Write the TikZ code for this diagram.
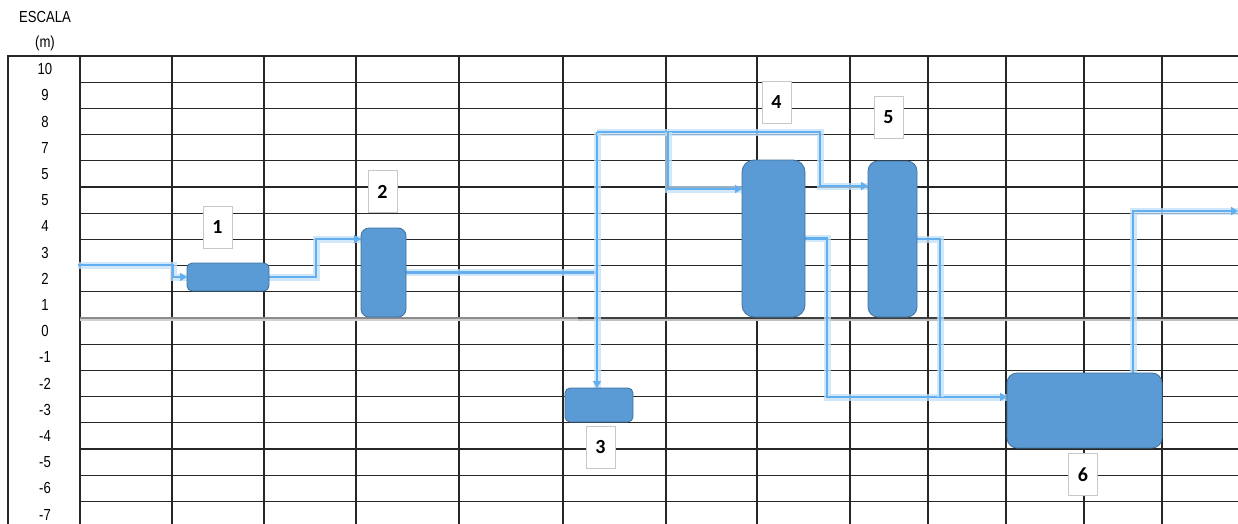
\documentclass[tikz,border=0pt]{standalone}
\usepackage{fontspec}
\setmainfont{Liberation Sans}
\newfontfamily\scalefont[FakeStretch=0.82]{Liberation Sans}
\newfontfamily\tagfont{Carlito}
\usetikzlibrary{arrows.meta,calc}
\definecolor{eqfill}{HTML}{5B9BD5}
\definecolor{eqdraw}{HTML}{41719C}
\definecolor{flow}{HTML}{62AEEE}
\definecolor{glow}{HTML}{C2E0FA}
\definecolor{tagdraw}{HTML}{C8C8C8}
\pgfdeclarelayer{bg}
\pgfsetlayers{bg,main}
\begin{document}
\begin{tikzpicture}[x=1pt,y=-1pt,
  grid/.style={line width=1.2pt, black!85},
  equip/.style={draw=eqdraw, fill=eqfill, line width=0.8pt, inner sep=0pt, outer sep=0pt},
  tagbox/.style={draw=tagdraw, fill=white, line width=0.8pt, minimum width=29pt, minimum height=42pt, inner sep=0pt, font=\tagfont\bfseries\fontsize{20}{20}\selectfont},
  rowlab/.style={font=\scalefont\fontsize{16}{16}\selectfont, inner sep=0pt},
  flowline/.style={draw=flow, line width=2.4pt, line join=miter,
     preaction={draw=glow, line width=7pt, opacity=0.75, -}},
  flowarrow/.style={flowline, -{Triangle[length=7pt,width=8pt]}}
]
\useasboundingbox (0,0) rectangle (1238,524);
\clip (0,0) rectangle (1238,524);

% scale title
\node[rowlab] (esc) at (45,17) {ESCALA};
\node[rowlab] (unit) at (45,43) {(m)};

% row labels
\foreach \t [count=\i from 0] in {10,9,8,7,5,5,4,3,2,1,0,-1,-2,-3,-4,-5,-6,-7}
  \node[rowlab] (r\i) at (45,{56+26.2*(\i+0.5)}) {\t};

% equipment
\node[equip, rounded corners=5pt, minimum width=82pt, minimum height=28pt] (b1) at (228,277) {};
\node[equip, rounded corners=8pt, minimum width=45pt, minimum height=89pt] (b2) at (383.5,272.5) {};
\node[equip, rounded corners=5pt, minimum width=68pt, minimum height=34pt] (b3) at (599,405) {};
\node[equip, rounded corners=12pt, minimum width=63pt, minimum height=157pt] (b4) at (773.5,238.5) {};
\node[equip, rounded corners=10pt, minimum width=49pt, minimum height=156pt] (b5) at (892.5,239) {};
\node[equip, rounded corners=10pt, minimum width=155pt, minimum height=75pt] (b6) at (1084.5,410.5) {};

% tags
\node[tagbox] (l1) at (217.5,227) {1};
\node[tagbox] (l2) at (382.5,191.5) {2};
\node[tagbox] (l3) at (600.5,447.5) {3};
\node[tagbox] (l4) at (776.5,102.5) {4};
\node[tagbox] (l5) at (888.5,117.5) {5};
\node[tagbox] (l6) at (1083,474.5) {6};

% junction coordinates
\coordinate (in0) at (78,265);
\coordinate (j1) at (173,265);
\coordinate (j2) at (316,239);
\coordinate (top) at (597,132);
\coordinate (t4) at (668,132);
\coordinate (t5) at (820,132);
\coordinate (m6) at (827,397);
\coordinate (m7) at (940,397);
\coordinate (u6) at (1133,373);
\coordinate (out) at (1238,211);

\begin{pgfonlayer}{bg}
  % grid
  \draw[grid] (8,524) -- (8,56) -- (1238,56);
  \foreach \k in {1,...,18}
    \draw[grid] (80,{56+26.2*\k}) -- (1238,{56+26.2*\k});
  \foreach \x in {80,172,264,356,459,563,666,757,850,928,1006,1084,1162}
    \draw[grid] (\x,56) -- (\x,524);
  % zero level
  \draw[line width=4pt, black!18] (80,319) -- (578,319);
  \draw[line width=2pt, black!45] (80,318) -- (578,318);
  \draw[line width=4pt, black!25] (578,319) -- (1238,319);
  \draw[line width=2.4pt, black!75] (578,318) -- (1238,318);

  % flows
  \draw[flowarrow] (in0) -- (j1) |- (b1.west);
  \draw[flowarrow] (b1.east) -| (j2) -- (j2 -| b2.west);
  \draw[flowline] (b2.east) -- (b2.east -| top);
  \draw[flowarrow] (top) -- (top |- b3.north);
  \draw[flowarrow] (top) -- (t5) |- ($(b5.north west)+(0,25)$);
  \draw[flowarrow] (t4) |- ($(b4.north west)+(0,29)$);
  \draw[flowarrow] (b4.east) -| (m6) -- (m6 -| b6.west);
  \draw[flowline] (b5.east) -| (m7);
  \draw[flowarrow] (u6) |- (out);
\end{pgfonlayer}
\end{tikzpicture}
\end{document}
